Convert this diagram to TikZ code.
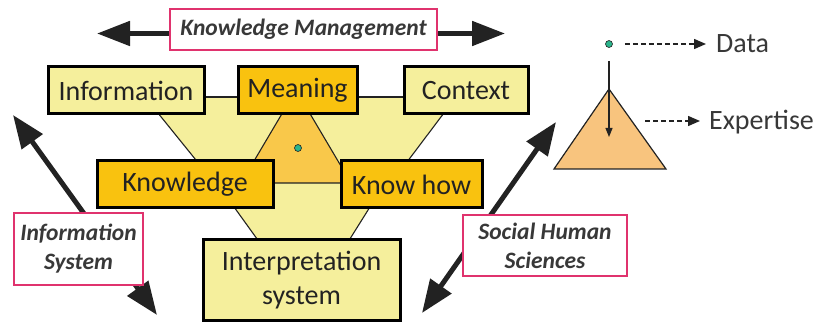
\documentclass[tikz,border=0pt]{standalone}
\usepackage{fontspec}
\setmainfont{Carlito}
\usetikzlibrary{arrows.meta}

\definecolor{paleyel}{HTML}{F5EF9C}
\definecolor{goldbox}{HTML}{F9C20F}
\definecolor{amber}{HTML}{F9C84A}
\definecolor{peach}{HTML}{F8C47E}
\definecolor{rose}{HTML}{E0336E}
\definecolor{dotgreen}{HTML}{2BB58C}
\definecolor{ink}{HTML}{222222}

\tikzset{
  conceptbox/.style={draw=black, line width=3pt, inner sep=0pt, text=ink,
    font=\fontsize{28}{34}\selectfont, align=center},
  pale/.style={conceptbox, fill=paleyel},
  golden/.style={conceptbox, fill=goldbox},
  tagbox/.style={draw=rose, line width=2.8pt, fill=white, inner sep=0pt, text=ink!90,
    font=\fontsize{23.5}{29}\selectfont\bfseries\itshape, align=center},
  bigarrow/.style={line width=5pt, draw=ink,
    {Triangle[length=33pt,width=25pt]}-{Triangle[length=33pt,width=25pt]}},
  onearrow/.style={line width=5pt, draw=ink, -{Triangle[length=33pt,width=24pt]}},
  thin/.style={line width=1.1pt, draw=ink},
  legendarrow/.style={line width=1.5pt, draw=ink, dash pattern=on 5pt off 3pt,
    -{Triangle[length=12pt,width=10pt]}},
  legendtext/.style={font=\fontsize{28}{34}\selectfont, text=ink!90, inner sep=0pt, anchor=west},
  datadot/.style={circle, fill=dotgreen, draw=ink, line width=0.6pt, inner sep=0pt, minimum size=7pt}
}

\begin{document}
\begin{tikzpicture}[x=1pt, y=-1pt]
\useasboundingbox (0,0) rectangle (822,323);

% funnel behind the concept boxes
\filldraw[thin, fill=paleyel] (145,97) -- (456,97) -- (401,170) -- (204,170) -- cycle;
\filldraw[thin, fill=paleyel] (211,175) -- (390,175) -- (343,250) -- (265,250) -- cycle;
% inner triangle holding the data point
\filldraw[thin, fill=amber] (296,90) -- (351,183) -- (241,183) -- cycle;
\node[datadot] (core) at (298,148) {};

% concept boxes
\node[pale, minimum width=156pt, minimum height=47pt] (info) at (126,90.5) {Information};
\node[golden, minimum width=119pt, minimum height=47pt] (meaning) at (297.5,90.5) {Meaning};
\node[pale, minimum width=124pt, minimum height=47pt] (context) at (466,90.5) {Context};
\node[golden, minimum width=176pt, minimum height=47pt] (knowledge) at (185,184.5) {Knowledge};
\node[golden, minimum width=141pt, minimum height=47pt] (knowhow) at (411.5,184.5) {Know how};
\node[pale, minimum width=197pt, minimum height=80pt] (interp) at (301.5,280) {Interpretation\\system};

\coordinate (topline) at (0,97);
\draw[thin] (info.east |- topline) -- (meaning.west |- topline);
\draw[thin] (meaning.east |- topline) -- (context.west |- topline);

% Knowledge Management, spanning both ways
\coordinate (kmL) at (97,33.5);
\coordinate (kmR) at (505,33.5);
\node[tagbox, minimum width=267pt, minimum height=41pt] (km) at (303.5,29.5) {Knowledge Management};
\draw[onearrow] (km.west |- kmL) -- (kmL);
\draw[onearrow] (km.east |- kmR) -- (kmR);

% Information System axis
\coordinate (isA) at (13,115);
\coordinate (isB) at (157,315);
\draw[bigarrow] (isA) -- (isB);
\node[tagbox, minimum width=129pt, minimum height=72pt] (infosys) at (78.5,249) {Information\\System};

% Social Human Sciences axis
\coordinate (shsA) at (422,313);
\coordinate (shsB) at (556,122);
\draw[bigarrow] (shsA) -- (shsB);
\node[tagbox, minimum width=164pt, minimum height=61pt] (shs) at (545,245.5) {Social Human\\Sciences};

% legend
\node[datadot] (ldot) at (609,44) {};
\node[legendtext] (data) at (716,44) {Data};
\draw[legendarrow, shorten <=12pt, shorten >=10pt] (ldot) -- (data.west);
\filldraw[line width=1.2pt, draw=ink, fill=peach] (609,89) -- (666,169) -- (554,169) -- cycle;
\coordinate (vtip) at (609,137);
\draw[line width=1.1pt, draw=ink, -{Triangle[length=9pt,width=7pt]}, shorten <=13pt] (ldot) -- (vtip);
\coordinate (expfrom) at (645,121);
\node[legendtext] (expertise) at (709,122) {Expertise};
\draw[legendarrow, shorten >=9pt] (expfrom) -- (expertise.west |- expfrom);
\end{tikzpicture}
\end{document}
